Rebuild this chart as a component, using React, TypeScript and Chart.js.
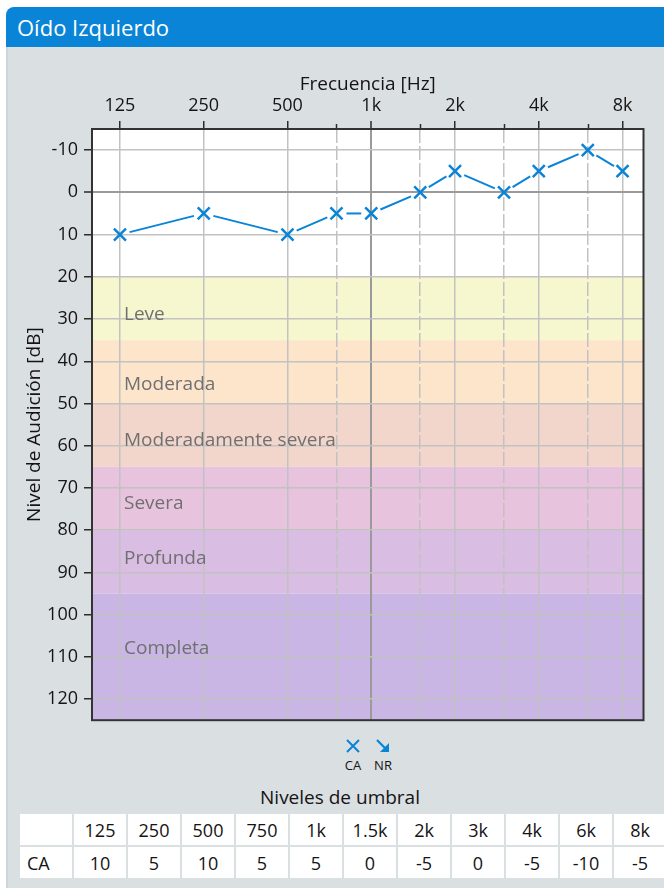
import React, { useEffect, useRef } from 'react';
import { Chart, registerables } from 'chart.js';

Chart.register(...registerables);

const FONT = '"Open Sans", "Noto Sans", sans-serif';

// ---- data ----
const frequencies = [125, 250, 500, 750, 1000, 1500, 2000, 3000, 4000, 6000, 8000];
const freqLabels = ['125', '250', '500', '750', '1k', '1.5k', '2k', '3k', '4k', '6k', '8k'];
const majorFreqs = [125, 250, 500, 1000, 2000, 4000, 8000];
const caThresholds = [10, 5, 10, 5, 5, 0, -5, 0, -5, -10, -5];
const dbTicks = [-10, 0, 10, 20, 30, 40, 50, 60, 70, 80, 90, 100, 110, 120];

const zoneNames = ['Leve', 'Moderada', 'Moderadamente severa', 'Severa', 'Profunda', 'Completa'];
const zoneFrom = [20, 35, 50, 65, 80, 95];
const zoneTo = [35, 50, 65, 80, 95, 125];
const zoneLabelDb = [28.9, 45.6, 58.9, 73.8, 86.8, 108.1];
const zoneColors = ['#f7f7cf', '#fde5cc', '#f2d6cc', '#e8c3de', '#d9bde3', '#c9b6e4'];

const BLUE = '#0a84d6';
const TEXT = '#141414';

function labelFor(v: number) {
  const i = frequencies.indexOf(v);
  return i >= 0 ? freqLabels[i] : '';
}

export default function App() {
  const ref = useRef<HTMLCanvasElement | null>(null);

  useEffect(() => {
    if (!ref.current) return;
    Chart.defaults.font.family = FONT;

    const zonesPlugin = {
      id: 'zones',
      beforeDraw(chart: any) {
        const { ctx, chartArea: a, scales } = chart;
        const y = scales.y;
        ctx.save();
        ctx.fillStyle = '#ffffff';
        ctx.fillRect(a.left, a.top, a.right - a.left, a.bottom - a.top);
        zoneNames.forEach((_, i) => {
          const y0 = y.getPixelForValue(zoneFrom[i]);
          const y1 = y.getPixelForValue(zoneTo[i]);
          ctx.fillStyle = zoneColors[i];
          ctx.fillRect(a.left, y0, a.right - a.left, y1 - y0);
        });
        ctx.restore();
      },
      beforeDatasetsDraw(chart: any) {
        const { ctx, chartArea: a, scales } = chart;
        const y = scales.y;
        ctx.save();
        ctx.font = `19px ${FONT}`;
        ctx.fillStyle = '#707070';
        ctx.textAlign = 'left';
        ctx.textBaseline = 'middle';
        zoneNames.forEach((n, i) => {
          ctx.fillText(n, a.left + 32, y.getPixelForValue(zoneLabelDb[i]));
        });
        ctx.restore();
      },
      afterDatasetsDraw(chart: any) {
        const { ctx } = chart;
        const meta = chart.getDatasetMeta(0);
        const pts = meta.data;
        const gap = 10;
        ctx.save();
        ctx.strokeStyle = BLUE;
        ctx.lineWidth = 2;
        ctx.lineCap = 'butt';
        for (let i = 0; i < pts.length - 1; i++) {
          const p0 = pts[i];
          const p1 = pts[i + 1];
          const dx = p1.x - p0.x;
          const dy = p1.y - p0.y;
          const len = Math.hypot(dx, dy);
          if (len <= gap * 2) continue;
          const ux = dx / len;
          const uy = dy / len;
          ctx.beginPath();
          ctx.moveTo(p0.x + ux * gap, p0.y + uy * gap);
          ctx.lineTo(p1.x - ux * gap, p1.y - uy * gap);
          ctx.stroke();
        }
        ctx.restore();
      },
      afterDraw(chart: any) {
        const { ctx, chartArea: a, scales } = chart;
        const x = scales.x;
        ctx.save();
        ctx.strokeStyle = '#2b2b2b';
        ctx.lineWidth = 1.5;
        frequencies.forEach((f) => {
          if (majorFreqs.includes(f)) return;
          const px = Math.round(x.getPixelForValue(f)) + 0.5;
          ctx.beginPath();
          ctx.moveTo(px, a.top - 5);
          ctx.lineTo(px, a.top);
          ctx.stroke();
        });
        ctx.strokeStyle = '#333333';
        ctx.lineWidth = 2;
        ctx.strokeRect(a.left, a.top, a.right - a.left, a.bottom - a.top);
        ctx.restore();
      },
    };

    const chart = new Chart(ref.current, {
      type: 'line',
      data: {
        datasets: [
          {
            label: 'CA',
            data: frequencies.map((f, i) => ({ x: f, y: caThresholds[i] })),
            showLine: false,
            borderColor: BLUE,
            backgroundColor: BLUE,
            pointStyle: 'crossRot',
            pointRadius: 8.5,
            pointBorderWidth: 2.5,
            pointBorderColor: BLUE,
          },
        ],
      },
      options: {
        responsive: false,
        animation: false,
        devicePixelRatio: 1,
        layout: { padding: { left: 0, right: 20.5, top: 0, bottom: 16 } },
        plugins: {
          legend: { display: false },
          tooltip: { enabled: false },
        },
        scales: {
          x: {
            type: 'logarithmic',
            position: 'top',
            min: 99.2,
            max: 9514,
            afterBuildTicks: (s: any) => {
              s.ticks = frequencies.map((v) => ({ value: v }));
            },
            afterFit: (s: any) => {
              s.height = 82;
            },
            ticks: {
              autoSkip: false,
              maxRotation: 0,
              minRotation: 0,
              padding: 4,
              color: TEXT,
              font: { size: 18, family: FONT },
              callback: (v: any) => (majorFreqs.includes(Number(v)) ? labelFor(Number(v)) : ''),
            },
            grid: {
              color: (c: any) => (c.tick && c.tick.value === 1000 ? '#9a9a9a' : '#c2c2c2'),
              lineWidth: (c: any) => (c.tick && c.tick.value === 1000 ? 2 : 1.5),
              tickColor: (c: any) => (c.tick && majorFreqs.includes(c.tick.value) ? '#2b2b2b' : 'rgba(0,0,0,0)'),
              tickLength: 8,
              tickWidth: 1.5,
            },
            border: {
              display: false,
              dash: (c: any) => (c.tick && !majorFreqs.includes(c.tick.value) ? [14, 3] : []),
            },
            title: {
              display: true,
              text: 'Frecuencia [Hz]',
              color: TEXT,
              font: { size: 19, family: FONT },
              padding: { top: 26, bottom: 0 },
            },
          },
          y: {
            type: 'linear',
            reverse: true,
            min: -15,
            max: 125,
            afterBuildTicks: (s: any) => {
              s.ticks = dbTicks.map((v) => ({ value: v }));
            },
            afterFit: (s: any) => {
              s.width = 92;
            },
            ticks: {
              padding: 6,
              color: TEXT,
              font: { size: 18, family: FONT },
            },
            grid: {
              color: (c: any) => (c.tick && c.tick.value === 0 ? '#9a9a9a' : '#c2c2c2'),
              lineWidth: (c: any) => (c.tick && c.tick.value === 0 ? 2 : 1.5),
              tickColor: '#2b2b2b',
              tickLength: 8,
              tickWidth: 1.5,
            },
            border: { display: false },
            title: {
              display: true,
              text: 'Nivel de Audición [dB]',
              color: TEXT,
              font: { size: 19, family: FONT },
              padding: { top: 23, bottom: 0 },
            },
          },
        },
      },
      plugins: [zonesPlugin],
    } as any);

    return () => chart.destroy();
  }, []);

  const cell: React.CSSProperties = {
    background: '#ffffff',
    height: 31,
    padding: 0,
    textAlign: 'center',
    fontSize: 18,
    color: TEXT,
    width: 52,
  };

  return (
    <div
      style={{
        position: 'absolute',
        left: 0,
        top: 0,
        width: 664,
        height: 888,
        background: '#ffffff',
        fontFamily: FONT,
        overflow: 'hidden',
      }}
    >
      <div
        style={{
          position: 'absolute',
          left: 6,
          top: 7,
          width: 658,
          height: 40,
          background: BLUE,
          borderTopLeftRadius: 8,
          color: '#ffffff',
          fontSize: 22,
          lineHeight: '40px',
          paddingLeft: 11,
          boxSizing: 'border-box',
        }}
      >
        Oído Izquierdo
      </div>
      <div
        style={{
          position: 'absolute',
          left: 6,
          top: 47,
          width: 658,
          height: 841,
          background: '#dadfe2',
          borderLeft: '2px solid #cbd5de',
          boxSizing: 'border-box',
        }}
      />
      <canvas
        ref={ref}
        width={664}
        height={690}
        style={{ position: 'absolute', left: 0, top: 47, width: 664, height: 690 }}
      />
      {/* legend */}
      <div style={{ position: 'absolute', left: 333, top: 739, width: 40, textAlign: 'center' }}>
        <svg width="14" height="14" viewBox="0 0 14 14" style={{ display: 'block', margin: '0 auto' }}>
          <path d="M1 1 L13 13 M13 1 L1 13" stroke={BLUE} strokeWidth="2" fill="none" />
        </svg>
        <div style={{ fontSize: 13, color: TEXT, lineHeight: '20px', marginTop: 2 }}>CA</div>
      </div>
      <div style={{ position: 'absolute', left: 363, top: 739, width: 40, textAlign: 'center' }}>
        <svg width="14" height="14" viewBox="0 0 14 14" style={{ display: 'block', margin: '0 auto' }}>
          <path d="M1 1 L10 10" stroke={BLUE} strokeWidth="2.2" fill="none" />
          <path d="M13 4 L13 13 L4 13 Z" fill={BLUE} />
        </svg>
        <div style={{ fontSize: 13, color: TEXT, lineHeight: '20px', marginTop: 2 }}>NR</div>
      </div>
      <div
        style={{
          position: 'absolute',
          left: 140,
          top: 783,
          width: 400,
          textAlign: 'center',
          fontSize: 19,
          color: TEXT,
          lineHeight: '28px',
        }}
      >
        Niveles de umbral
      </div>
      <table
        style={{
          position: 'absolute',
          left: 18,
          top: 812,
          borderCollapse: 'separate',
          borderSpacing: 2,
          tableLayout: 'fixed',
          width: 647,
        }}
      >
        <tbody>
          <tr>
            <td style={cell}></td>
            {freqLabels.map((l) => (
              <td key={l} style={cell}>
                {l}
              </td>
            ))}
          </tr>
          <tr>
            <td style={{ ...cell, textAlign: 'left', paddingLeft: 7 }}>CA</td>
            {caThresholds.map((v, i) => (
              <td key={i} style={cell}>
                {v}
              </td>
            ))}
          </tr>
        </tbody>
      </table>
    </div>
  );
}
